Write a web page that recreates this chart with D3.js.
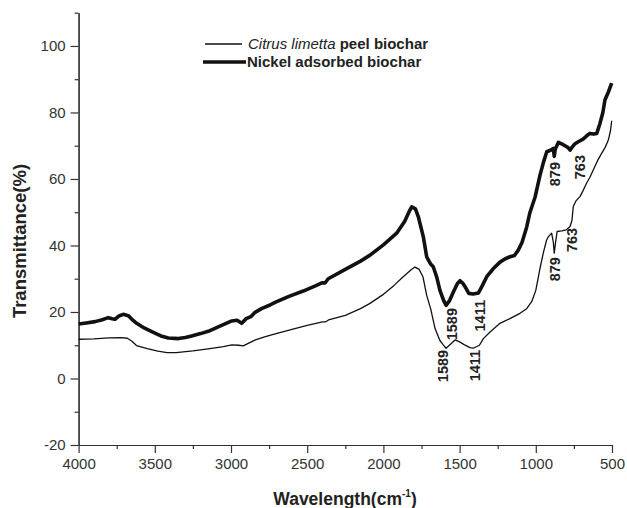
<!DOCTYPE html>
<html>
<head>
<meta charset="utf-8">
<script src="https://cdn.jsdelivr.net/npm/d3@7"></script>
<style>
  body { margin: 0; background: #fff; }
  svg { display: block; font-family: Arial, "Liberation Sans", sans-serif; }
  .axis text { font-size: 15px; fill: #333; }
  .axis path, .axis line { stroke: #333; stroke-width: 1.2; }
</style>
</head>
<body>
<div id="chart"></div>
<script>
// ============================================================
// Data (wavenumber cm-1, transmittance %)
// ============================================================
const seriesNames = ['Citrus limetta peel biochar', 'Nickel adsorbed biochar'];

const citrusWave = [4000, 3900, 3800, 3720, 3680, 3650, 3620, 3550, 3480, 3420, 3360, 3250, 3150, 3050, 2995, 2950, 2920, 2880, 2840, 2780,
  2710, 2600, 2500, 2400, 2380, 2360, 2250, 2150, 2088, 2000, 1930, 1870, 1820, 1793, 1765, 1740, 1716, 1690, 1661, 1630,
  1607, 1589, 1560, 1530, 1500, 1470, 1432, 1411, 1370, 1344, 1300, 1235, 1170, 1104, 1060, 1027, 1000, 973, 951, 930,
  918, 896, 885, 879, 870, 860, 830, 800, 775, 763, 754, 735, 710, 690, 667, 645, 623, 595, 568, 545,
  524, 510, 502];
const citrusT = [11.8, 11.9, 12.2, 12.3, 12.1, 11.2, 9.9, 9.0, 8.2, 7.8, 7.8, 8.3, 8.9, 9.6, 10.1, 10.0, 9.8, 10.7, 11.6, 12.5,
  13.4, 14.8, 16.0, 17.0, 17.0, 17.6, 19.0, 21.0, 22.6, 25.3, 28.0, 30.6, 32.6, 33.5, 32.8, 30.5, 25.0, 21.0, 15.0, 11.5,
  10.1, 9.1, 10.3, 11.6, 11.0, 10.2, 9.3, 9.1, 10.0, 12.0, 14.0, 16.6, 18.0, 19.6, 21.0, 23.1, 26.5, 33.0, 37.7, 41.5,
  42.6, 43.7, 41.0, 37.7, 41.0, 44.2, 44.4, 44.7, 45.7, 47.5, 51.7, 53.5, 54.7, 56.5, 58.7, 60.5, 62.7, 65.5, 67.7, 69.5,
  71.7, 74.5, 77.5];

const nickelWave = [4000, 3950, 3892, 3850, 3805, 3780, 3761, 3735, 3707, 3674, 3650, 3619, 3570, 3520, 3460, 3411, 3346, 3300, 3258, 3200,
  3149, 3080, 2995, 2960, 2930, 2900, 2870, 2842, 2800, 2744, 2711, 2620, 2526, 2450, 2400, 2383, 2362, 2250, 2150, 2088,
  2000, 1913, 1860, 1830, 1814, 1790, 1770, 1738, 1716, 1690, 1673, 1650, 1629, 1605, 1589, 1565, 1541, 1515, 1497, 1480,
  1464, 1440, 1411, 1377, 1350, 1322, 1280, 1235, 1200, 1169, 1140, 1115, 1090, 1060, 1038, 1005, 973, 950, 928, 900,
  885, 879, 872, 852, 820, 790, 775, 763, 745, 721, 690, 660, 645, 620, 600, 579, 560, 546, 525, 502];
const nickelT = [16.4, 16.7, 17.1, 17.6, 18.3, 18.0, 17.8, 18.8, 19.3, 18.9, 17.8, 16.6, 15.2, 14.1, 12.8, 12.2, 12.0, 12.3, 12.8, 13.5,
  14.2, 15.6, 17.3, 17.5, 16.6, 18.0, 18.6, 19.9, 21.0, 22.1, 22.9, 24.7, 26.3, 27.8, 28.8, 28.7, 30.0, 32.8, 35.3, 37.1,
  40.2, 43.7, 47.3, 50.3, 51.6, 51.0, 48.5, 42.6, 36.6, 34.4, 33.6, 30.5, 26.5, 23.5, 22.0, 23.5, 26.0, 28.5, 29.4, 28.7,
  27.6, 25.6, 25.4, 25.7, 28.0, 30.6, 33.0, 35.0, 36.0, 36.6, 37.0, 38.6, 41.0, 45.5, 50.0, 54.5, 61.0, 65.0, 68.2, 68.7,
  69.2, 66.8, 69.0, 71.0, 70.3, 69.5, 68.7, 69.5, 70.5, 71.2, 72.0, 73.2, 73.7, 73.5, 73.7, 76.7, 80.0, 83.8, 86.0, 88.8];

// Peak labels: text, x position (cm-1), top of text (%)
const peakText = ['1589', '1411', '879', '763', '1589', '1411', '879', '763'];
const peakWave = [1609, 1401, 880, 763, 1550, 1370, 880, 710];
const peakTop  = [8.6, 8.6, 36.5, 45.3, 21.2, 23.6, 65.1, 67.2];

const xTicks = [4000, 3500, 3000, 2500, 2000, 1500, 1000, 500];
const xMinor = [3750, 3250, 2750, 2250, 1750, 1250, 750];
const yTicks = [-20, 0, 20, 40, 60, 80, 100];
const yMinor = [-10, 10, 30, 50, 70, 90, 110];

// ============================================================
// Layout
// ============================================================
const W = 627, H = 508;
const plotLeft = 78.6, plotRight = 612, plotTop = 12.7, plotBottom = 445;

const svg = d3.select('#chart').append('svg')
  .attr('width', W).attr('height', H);

const x = d3.scaleLinear().domain([4000, 500]).range([plotLeft, plotRight]);
const y = d3.scaleLinear().domain([-20, 110]).range([plotBottom, plotTop]);
const fmt = d => String(d);

// minor ticks first, then major axes
svg.append('g').attr('class', 'axis')
  .attr('transform', `translate(0,${plotBottom})`)
  .call(d3.axisBottom(x).tickValues(xMinor).tickSize(4).tickFormat('').tickSizeOuter(0));
svg.append('g').attr('class', 'axis')
  .attr('transform', `translate(${plotLeft},0)`)
  .call(d3.axisLeft(y).tickValues(yMinor).tickSize(4).tickFormat('').tickSizeOuter(0));

svg.append('g').attr('class', 'axis')
  .attr('transform', `translate(0,${plotBottom})`)
  .call(d3.axisBottom(x).tickValues(xTicks).tickFormat(fmt).tickSize(8).tickPadding(5).tickSizeOuter(0));
svg.append('g').attr('class', 'axis')
  .attr('transform', `translate(${plotLeft},0)`)
  .call(d3.axisLeft(y).tickValues(yTicks).tickFormat(fmt).tickSize(8).tickPadding(5).tickSizeOuter(0));

// ============================================================
// Curves
// ============================================================
const line = d3.line().x(d => x(d[0])).y(d => y(d[1]));

svg.append('path')
  .datum(d3.zip(citrusWave, citrusT))
  .attr('fill', 'none').attr('stroke', '#111').attr('stroke-width', 1.3)
  .attr('stroke-linejoin', 'round')
  .attr('d', line);

svg.append('path')
  .datum(d3.zip(nickelWave, nickelT))
  .attr('fill', 'none').attr('stroke', '#111').attr('stroke-width', 3.6)
  .attr('stroke-linejoin', 'round')
  .attr('d', line);

// peak labels, rotated
peakText.forEach((t, i) => {
  const px = x(peakWave[i]), py = y(peakTop[i]);
  svg.append('text')
    .attr('transform', `translate(${px + 5.5},${py}) rotate(-90)`)
    .attr('text-anchor', 'end')
    .style('font-size', '14.5px').style('font-weight', 'bold').style('fill', '#222')
    .text(t);
});

// ============================================================
// Legend
// ============================================================
const legend = svg.append('g');
legend.append('line')
  .attr('x1', 205).attr('x2', 242).attr('y1', 44).attr('y2', 44)
  .attr('stroke', '#111').attr('stroke-width', 1.3);
const l1 = legend.append('text').attr('x', 248).attr('y', 49)
  .style('font-size', '15px').style('fill', '#222');
l1.append('tspan').style('font-style', 'italic').text('Citrus limetta');
l1.append('tspan').style('font-weight', 'bold').text(' peel biochar');

legend.append('line')
  .attr('x1', 203).attr('x2', 246).attr('y1', 62).attr('y2', 62)
  .attr('stroke', '#111').attr('stroke-width', 3.6);
legend.append('text').attr('x', 247).attr('y', 67)
  .style('font-size', '15px').style('font-weight', 'bold').style('fill', '#222')
  .text(seriesNames[1]);

// ============================================================
// Axis titles
// ============================================================
svg.append('text')
  .attr('transform', `translate(26,241) rotate(-90)`)
  .attr('text-anchor', 'middle')
  .style('font-size', '18.5px').style('font-weight', 'bold').style('fill', '#222')
  .text('Transmittance(%)');

const xt = svg.append('text')
  .attr('x', 345).attr('y', 505)
  .attr('text-anchor', 'middle')
  .style('font-size', '17.5px').style('font-weight', 'bold').style('fill', '#222');
xt.append('tspan').text('Wavelength(cm');
xt.append('tspan').attr('dy', -8).style('font-size', '10px').text('-1');
xt.append('tspan').attr('dy', 8).text(')');
</script>
</body>
</html>
